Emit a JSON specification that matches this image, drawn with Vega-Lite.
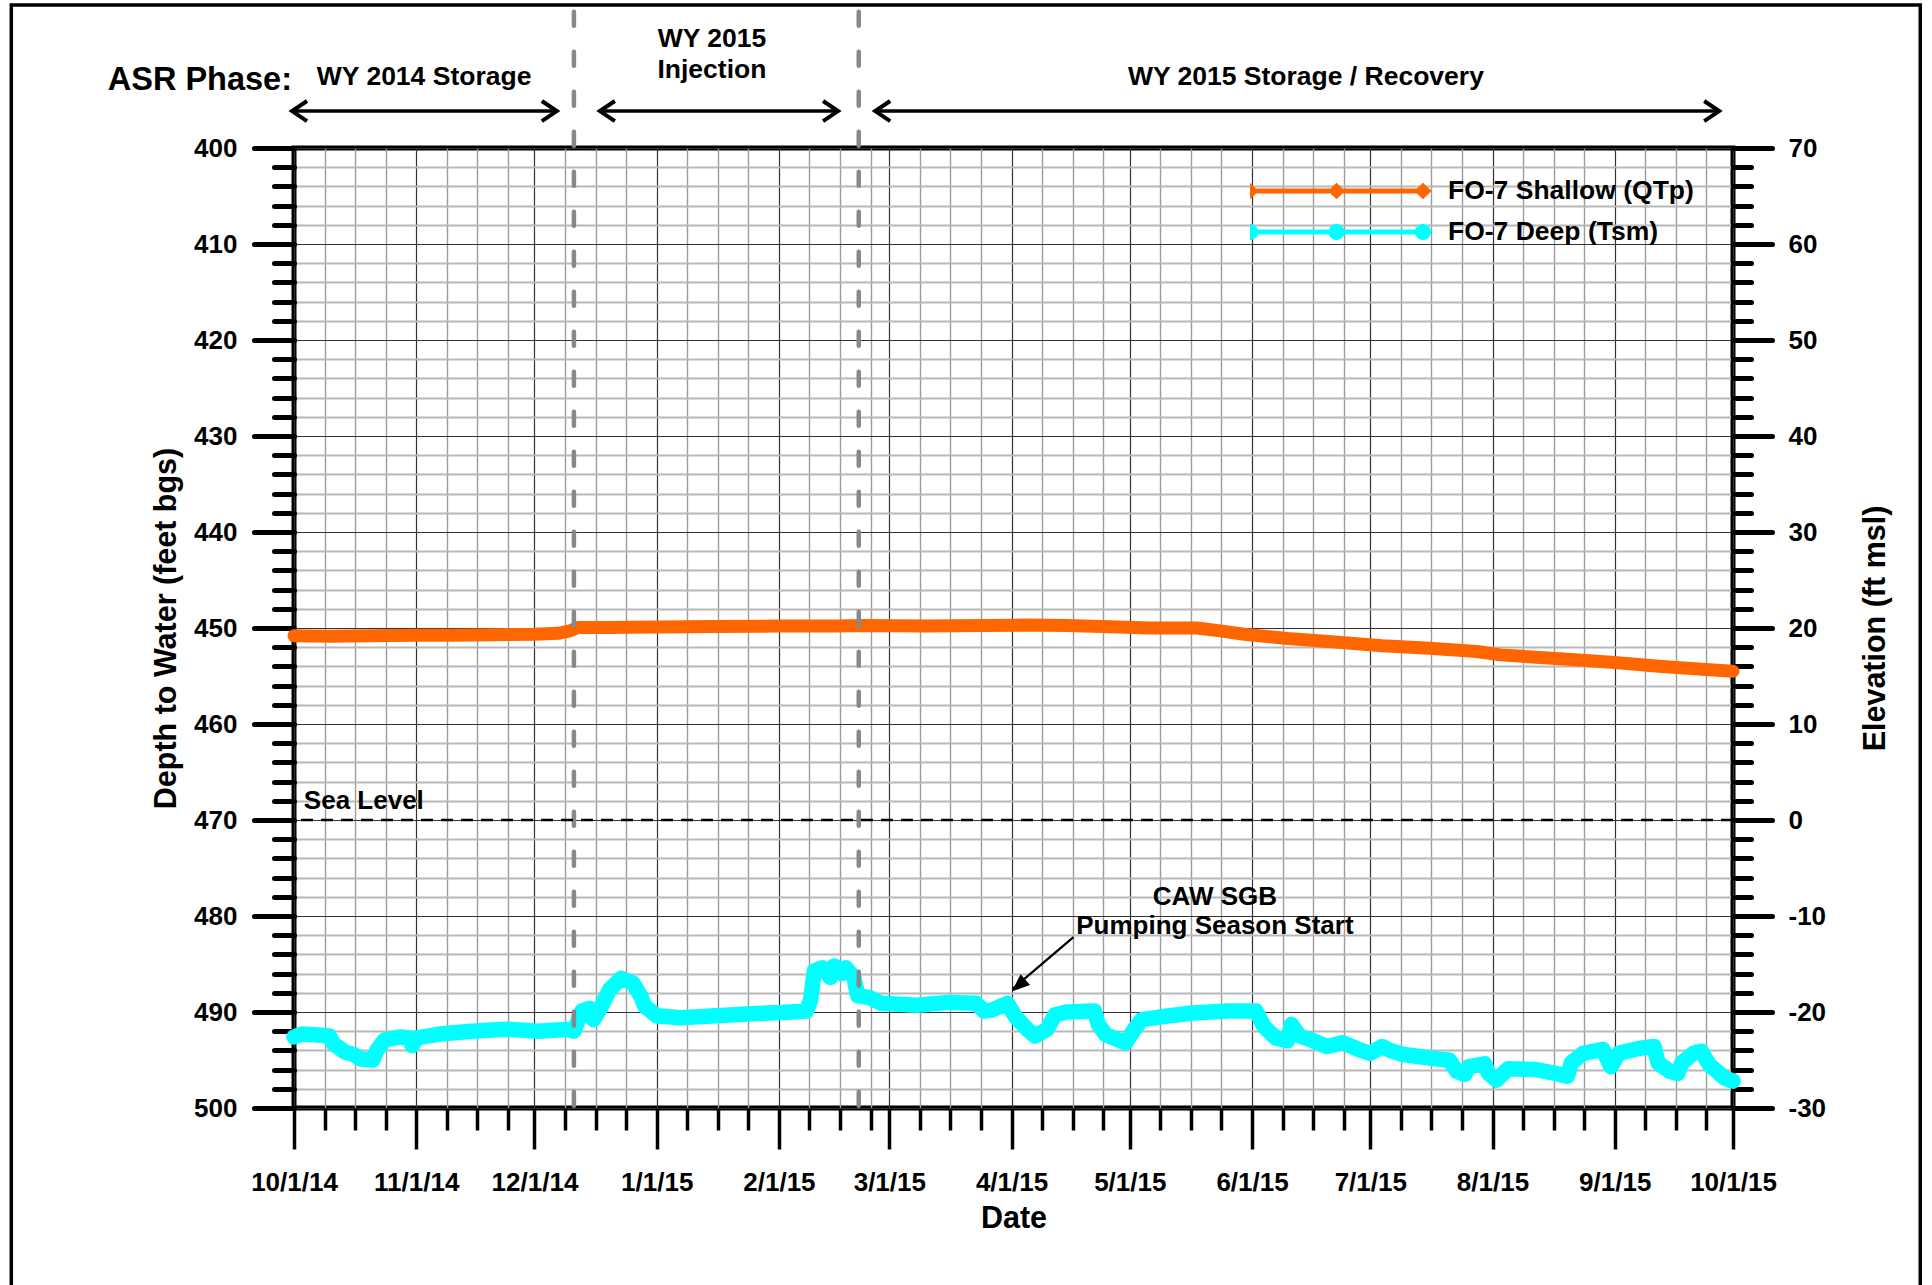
{
  "$schema": "https://vega.github.io/schema/vega-lite/v6.json",
  "width": 1439,
  "height": 960,
  "autosize": {"type": "none"},
  "padding": {"left": 294, "top": 148, "right": 199, "bottom": 177},
  "background": "white",
  "config": {
    "font": "Liberation Sans",
    "view": {"stroke": "black", "strokeWidth": 5},
    "axis": {
      "domain": false,
      "labelFont": "Liberation Sans",
      "labelFontWeight": "bold",
      "labelFontSize": 26,
      "labelColor": "black",
      "titleFont": "Liberation Sans",
      "titleFontWeight": "bold",
      "titleFontSize": 30.5,
      "titleColor": "black",
      "tickColor": "black",
      "labelOverlap": false,
      "labelFlush": false,
      "labelBound": false
    }
  },
  "datasets": {
    "levels": [
      {"date": "2014-10-01", "well": "FO-7 Shallow (QTp)", "depth": 450.8},
      {"date": "2014-10-10", "well": "FO-7 Shallow (QTp)", "depth": 450.85},
      {"date": "2014-10-20", "well": "FO-7 Shallow (QTp)", "depth": 450.8},
      {"date": "2014-11-01", "well": "FO-7 Shallow (QTp)", "depth": 450.75},
      {"date": "2014-11-10", "well": "FO-7 Shallow (QTp)", "depth": 450.75},
      {"date": "2014-11-20", "well": "FO-7 Shallow (QTp)", "depth": 450.7},
      {"date": "2014-12-01", "well": "FO-7 Shallow (QTp)", "depth": 450.65},
      {"date": "2014-12-07", "well": "FO-7 Shallow (QTp)", "depth": 450.55},
      {"date": "2014-12-10", "well": "FO-7 Shallow (QTp)", "depth": 450.3},
      {"date": "2014-12-12", "well": "FO-7 Shallow (QTp)", "depth": 449.95},
      {"date": "2014-12-20", "well": "FO-7 Shallow (QTp)", "depth": 449.95},
      {"date": "2015-01-01", "well": "FO-7 Shallow (QTp)", "depth": 449.9},
      {"date": "2015-01-15", "well": "FO-7 Shallow (QTp)", "depth": 449.85},
      {"date": "2015-02-01", "well": "FO-7 Shallow (QTp)", "depth": 449.8},
      {"date": "2015-02-15", "well": "FO-7 Shallow (QTp)", "depth": 449.8},
      {"date": "2015-02-23", "well": "FO-7 Shallow (QTp)", "depth": 449.75},
      {"date": "2015-03-10", "well": "FO-7 Shallow (QTp)", "depth": 449.8},
      {"date": "2015-03-25", "well": "FO-7 Shallow (QTp)", "depth": 449.75},
      {"date": "2015-04-05", "well": "FO-7 Shallow (QTp)", "depth": 449.7},
      {"date": "2015-04-15", "well": "FO-7 Shallow (QTp)", "depth": 449.75},
      {"date": "2015-04-24", "well": "FO-7 Shallow (QTp)", "depth": 449.85},
      {"date": "2015-05-06", "well": "FO-7 Shallow (QTp)", "depth": 450.0},
      {"date": "2015-05-18", "well": "FO-7 Shallow (QTp)", "depth": 450.0},
      {"date": "2015-05-24", "well": "FO-7 Shallow (QTp)", "depth": 450.3},
      {"date": "2015-05-30", "well": "FO-7 Shallow (QTp)", "depth": 450.65},
      {"date": "2015-06-10", "well": "FO-7 Shallow (QTp)", "depth": 451.1},
      {"date": "2015-06-22", "well": "FO-7 Shallow (QTp)", "depth": 451.45},
      {"date": "2015-07-04", "well": "FO-7 Shallow (QTp)", "depth": 451.85},
      {"date": "2015-07-16", "well": "FO-7 Shallow (QTp)", "depth": 452.1},
      {"date": "2015-07-28", "well": "FO-7 Shallow (QTp)", "depth": 452.45},
      {"date": "2015-08-03", "well": "FO-7 Shallow (QTp)", "depth": 452.8},
      {"date": "2015-08-20", "well": "FO-7 Shallow (QTp)", "depth": 453.25},
      {"date": "2015-09-01", "well": "FO-7 Shallow (QTp)", "depth": 453.6},
      {"date": "2015-09-13", "well": "FO-7 Shallow (QTp)", "depth": 454.0},
      {"date": "2015-09-25", "well": "FO-7 Shallow (QTp)", "depth": 454.35},
      {"date": "2015-10-01", "well": "FO-7 Shallow (QTp)", "depth": 454.5},
      {"date": "2014-10-01", "well": "FO-7 Deep (Tsm)", "depth": 492.6},
      {"date": "2014-10-03", "well": "FO-7 Deep (Tsm)", "depth": 492.3},
      {"date": "2014-10-07", "well": "FO-7 Deep (Tsm)", "depth": 492.4},
      {"date": "2014-10-10", "well": "FO-7 Deep (Tsm)", "depth": 492.5},
      {"date": "2014-10-11", "well": "FO-7 Deep (Tsm)", "depth": 493.3},
      {"date": "2014-10-14", "well": "FO-7 Deep (Tsm)", "depth": 494.2},
      {"date": "2014-10-16", "well": "FO-7 Deep (Tsm)", "depth": 494.4},
      {"date": "2014-10-18", "well": "FO-7 Deep (Tsm)", "depth": 494.9},
      {"date": "2014-10-21", "well": "FO-7 Deep (Tsm)", "depth": 495.0},
      {"date": "2014-10-22", "well": "FO-7 Deep (Tsm)", "depth": 494.0},
      {"date": "2014-10-24", "well": "FO-7 Deep (Tsm)", "depth": 492.9},
      {"date": "2014-10-28", "well": "FO-7 Deep (Tsm)", "depth": 492.6},
      {"date": "2014-10-30", "well": "FO-7 Deep (Tsm)", "depth": 492.7},
      {"date": "2014-10-31", "well": "FO-7 Deep (Tsm)", "depth": 493.5},
      {"date": "2014-11-01", "well": "FO-7 Deep (Tsm)", "depth": 492.7},
      {"date": "2014-11-07", "well": "FO-7 Deep (Tsm)", "depth": 492.3},
      {"date": "2014-11-15", "well": "FO-7 Deep (Tsm)", "depth": 492.0},
      {"date": "2014-11-24", "well": "FO-7 Deep (Tsm)", "depth": 491.8},
      {"date": "2014-12-02", "well": "FO-7 Deep (Tsm)", "depth": 492.0},
      {"date": "2014-12-10", "well": "FO-7 Deep (Tsm)", "depth": 491.8},
      {"date": "2014-12-11", "well": "FO-7 Deep (Tsm)", "depth": 492.0},
      {"date": "2014-12-13", "well": "FO-7 Deep (Tsm)", "depth": 489.9},
      {"date": "2014-12-15", "well": "FO-7 Deep (Tsm)", "depth": 489.6},
      {"date": "2014-12-16", "well": "FO-7 Deep (Tsm)", "depth": 490.8},
      {"date": "2014-12-18", "well": "FO-7 Deep (Tsm)", "depth": 489.4},
      {"date": "2014-12-20", "well": "FO-7 Deep (Tsm)", "depth": 487.7},
      {"date": "2014-12-23", "well": "FO-7 Deep (Tsm)", "depth": 486.5},
      {"date": "2014-12-26", "well": "FO-7 Deep (Tsm)", "depth": 487.0},
      {"date": "2014-12-28", "well": "FO-7 Deep (Tsm)", "depth": 488.4},
      {"date": "2014-12-29", "well": "FO-7 Deep (Tsm)", "depth": 489.4},
      {"date": "2015-01-01", "well": "FO-7 Deep (Tsm)", "depth": 490.4},
      {"date": "2015-01-07", "well": "FO-7 Deep (Tsm)", "depth": 490.6},
      {"date": "2015-01-16", "well": "FO-7 Deep (Tsm)", "depth": 490.4},
      {"date": "2015-01-24", "well": "FO-7 Deep (Tsm)", "depth": 490.2},
      {"date": "2015-02-02", "well": "FO-7 Deep (Tsm)", "depth": 490.05},
      {"date": "2015-02-08", "well": "FO-7 Deep (Tsm)", "depth": 489.9},
      {"date": "2015-02-09", "well": "FO-7 Deep (Tsm)", "depth": 488.8},
      {"date": "2015-02-10", "well": "FO-7 Deep (Tsm)", "depth": 485.7},
      {"date": "2015-02-12", "well": "FO-7 Deep (Tsm)", "depth": 485.4},
      {"date": "2015-02-14", "well": "FO-7 Deep (Tsm)", "depth": 486.4},
      {"date": "2015-02-15", "well": "FO-7 Deep (Tsm)", "depth": 485.2},
      {"date": "2015-02-17", "well": "FO-7 Deep (Tsm)", "depth": 486.0},
      {"date": "2015-02-18", "well": "FO-7 Deep (Tsm)", "depth": 485.4},
      {"date": "2015-02-20", "well": "FO-7 Deep (Tsm)", "depth": 486.4},
      {"date": "2015-02-21", "well": "FO-7 Deep (Tsm)", "depth": 488.3},
      {"date": "2015-02-24", "well": "FO-7 Deep (Tsm)", "depth": 488.5},
      {"date": "2015-02-27", "well": "FO-7 Deep (Tsm)", "depth": 489.1},
      {"date": "2015-03-08", "well": "FO-7 Deep (Tsm)", "depth": 489.3},
      {"date": "2015-03-16", "well": "FO-7 Deep (Tsm)", "depth": 489.0},
      {"date": "2015-03-23", "well": "FO-7 Deep (Tsm)", "depth": 489.1},
      {"date": "2015-03-25", "well": "FO-7 Deep (Tsm)", "depth": 489.9},
      {"date": "2015-03-27", "well": "FO-7 Deep (Tsm)", "depth": 489.8},
      {"date": "2015-03-31", "well": "FO-7 Deep (Tsm)", "depth": 489.1},
      {"date": "2015-04-02", "well": "FO-7 Deep (Tsm)", "depth": 490.5},
      {"date": "2015-04-05", "well": "FO-7 Deep (Tsm)", "depth": 491.8},
      {"date": "2015-04-07", "well": "FO-7 Deep (Tsm)", "depth": 492.5},
      {"date": "2015-04-10", "well": "FO-7 Deep (Tsm)", "depth": 491.8},
      {"date": "2015-04-12", "well": "FO-7 Deep (Tsm)", "depth": 490.3},
      {"date": "2015-04-15", "well": "FO-7 Deep (Tsm)", "depth": 490.0},
      {"date": "2015-04-22", "well": "FO-7 Deep (Tsm)", "depth": 489.9},
      {"date": "2015-04-23", "well": "FO-7 Deep (Tsm)", "depth": 491.3},
      {"date": "2015-04-25", "well": "FO-7 Deep (Tsm)", "depth": 492.4},
      {"date": "2015-04-30", "well": "FO-7 Deep (Tsm)", "depth": 493.2},
      {"date": "2015-05-02", "well": "FO-7 Deep (Tsm)", "depth": 491.9},
      {"date": "2015-05-04", "well": "FO-7 Deep (Tsm)", "depth": 490.8},
      {"date": "2015-05-09", "well": "FO-7 Deep (Tsm)", "depth": 490.5},
      {"date": "2015-05-17", "well": "FO-7 Deep (Tsm)", "depth": 490.1},
      {"date": "2015-05-26", "well": "FO-7 Deep (Tsm)", "depth": 489.9},
      {"date": "2015-06-02", "well": "FO-7 Deep (Tsm)", "depth": 489.9},
      {"date": "2015-06-04", "well": "FO-7 Deep (Tsm)", "depth": 491.5},
      {"date": "2015-06-07", "well": "FO-7 Deep (Tsm)", "depth": 492.7},
      {"date": "2015-06-10", "well": "FO-7 Deep (Tsm)", "depth": 493.0},
      {"date": "2015-06-11", "well": "FO-7 Deep (Tsm)", "depth": 491.3},
      {"date": "2015-06-13", "well": "FO-7 Deep (Tsm)", "depth": 492.5},
      {"date": "2015-06-16", "well": "FO-7 Deep (Tsm)", "depth": 492.9},
      {"date": "2015-06-20", "well": "FO-7 Deep (Tsm)", "depth": 493.6},
      {"date": "2015-06-24", "well": "FO-7 Deep (Tsm)", "depth": 493.2},
      {"date": "2015-06-28", "well": "FO-7 Deep (Tsm)", "depth": 493.9},
      {"date": "2015-07-01", "well": "FO-7 Deep (Tsm)", "depth": 494.3},
      {"date": "2015-07-04", "well": "FO-7 Deep (Tsm)", "depth": 493.6},
      {"date": "2015-07-06", "well": "FO-7 Deep (Tsm)", "depth": 494.0},
      {"date": "2015-07-09", "well": "FO-7 Deep (Tsm)", "depth": 494.4},
      {"date": "2015-07-18", "well": "FO-7 Deep (Tsm)", "depth": 494.9},
      {"date": "2015-07-21", "well": "FO-7 Deep (Tsm)", "depth": 495.0},
      {"date": "2015-07-23", "well": "FO-7 Deep (Tsm)", "depth": 496.2},
      {"date": "2015-07-25", "well": "FO-7 Deep (Tsm)", "depth": 496.5},
      {"date": "2015-07-26", "well": "FO-7 Deep (Tsm)", "depth": 495.7},
      {"date": "2015-07-30", "well": "FO-7 Deep (Tsm)", "depth": 495.4},
      {"date": "2015-07-31", "well": "FO-7 Deep (Tsm)", "depth": 496.4},
      {"date": "2015-08-02", "well": "FO-7 Deep (Tsm)", "depth": 497.1},
      {"date": "2015-08-05", "well": "FO-7 Deep (Tsm)", "depth": 495.9},
      {"date": "2015-08-12", "well": "FO-7 Deep (Tsm)", "depth": 496.0},
      {"date": "2015-08-17", "well": "FO-7 Deep (Tsm)", "depth": 496.4},
      {"date": "2015-08-20", "well": "FO-7 Deep (Tsm)", "depth": 496.7},
      {"date": "2015-08-21", "well": "FO-7 Deep (Tsm)", "depth": 495.3},
      {"date": "2015-08-24", "well": "FO-7 Deep (Tsm)", "depth": 494.3},
      {"date": "2015-08-29", "well": "FO-7 Deep (Tsm)", "depth": 493.9},
      {"date": "2015-08-31", "well": "FO-7 Deep (Tsm)", "depth": 495.7},
      {"date": "2015-09-02", "well": "FO-7 Deep (Tsm)", "depth": 494.3},
      {"date": "2015-09-07", "well": "FO-7 Deep (Tsm)", "depth": 493.8},
      {"date": "2015-09-11", "well": "FO-7 Deep (Tsm)", "depth": 493.6},
      {"date": "2015-09-12", "well": "FO-7 Deep (Tsm)", "depth": 495.3},
      {"date": "2015-09-15", "well": "FO-7 Deep (Tsm)", "depth": 496.2},
      {"date": "2015-09-17", "well": "FO-7 Deep (Tsm)", "depth": 496.4},
      {"date": "2015-09-18", "well": "FO-7 Deep (Tsm)", "depth": 495.3},
      {"date": "2015-09-21", "well": "FO-7 Deep (Tsm)", "depth": 494.3},
      {"date": "2015-09-23", "well": "FO-7 Deep (Tsm)", "depth": 494.1},
      {"date": "2015-09-25", "well": "FO-7 Deep (Tsm)", "depth": 495.5},
      {"date": "2015-09-29", "well": "FO-7 Deep (Tsm)", "depth": 496.9},
      {"date": "2015-10-01", "well": "FO-7 Deep (Tsm)", "depth": 497.2}
    ],
    "phases": [
      {"label": "WY 2014 Storage", "start": "2014-09-30T12:00:00Z", "end": "2014-12-06T16:00:00Z", "labelDate": "2014-11-03T00:00:00Z"},
      {"label": "WY 2015\nInjection", "start": "2014-12-17T14:00:00Z", "end": "2015-02-16T00:00:00Z", "labelDate": "2015-01-15T00:00:00Z"},
      {"label": "WY 2015 Storage / Recovery", "start": "2015-02-25T10:00:00Z", "end": "2015-09-27T12:00:00Z", "labelDate": "2015-06-14T16:00:00Z"}
    ],
    "boundaries": [
      {"date": "2014-12-11T00:00:00Z"},
      {"date": "2015-02-21T06:00:00Z"}
    ]
  },
  "layer": [
    {
      "layer": [
        {
          "data": {"values": [{}]},
          "mark": {"type": "rect", "fill": "transparent", "stroke": "black", "strokeWidth": 3.5},
          "encoding": {
            "x": {"datum": {"year": 2014, "month": 7, "date": 21, "hours": 7, "utc": true}, "type": "temporal"},
            "x2": {"datum": {"year": 2015, "month": 11, "date": 17, "hours": 12, "utc": true}},
            "y": {"datum": 385.1, "type": "quantitative"},
            "y2": {"datum": 540}
          }
        },
        {
          "data": {"name": "levels"},
          "transform": [{"filter": "datum.well === 'FO-7 Shallow (QTp)'"}],
          "mark": {"type": "line", "strokeWidth": 13, "strokeCap": "round", "strokeJoin": "round"},
          "encoding": {
            "x": {
              "field": "date",
              "type": "temporal",
              "scale": {"type": "utc", "domain": [{"year": 2014, "month": 10, "date": 1, "utc": true}, {"year": 2015, "month": 10, "date": 1, "utc": true}]},
              "axis": {
                "orient": "bottom",
                "title": "Date",
                "tickCount": 500,
                "values": [
                  {"year": 2014, "month": 10, "date": 1, "utc": true},
                  {"year": 2014, "month": 10, "date": 8, "hours": 18, "utc": true},
                  {"year": 2014, "month": 10, "date": 16, "hours": 12, "utc": true},
                  {"year": 2014, "month": 10, "date": 24, "hours": 6, "utc": true},
                  {"year": 2014, "month": 11, "date": 1, "utc": true},
                  {"year": 2014, "month": 11, "date": 8, "hours": 18, "utc": true},
                  {"year": 2014, "month": 11, "date": 16, "hours": 12, "utc": true},
                  {"year": 2014, "month": 11, "date": 24, "hours": 6, "utc": true},
                  {"year": 2014, "month": 12, "date": 1, "utc": true},
                  {"year": 2014, "month": 12, "date": 8, "hours": 18, "utc": true},
                  {"year": 2014, "month": 12, "date": 16, "hours": 12, "utc": true},
                  {"year": 2014, "month": 12, "date": 24, "hours": 6, "utc": true},
                  {"year": 2015, "month": 1, "date": 1, "utc": true},
                  {"year": 2015, "month": 1, "date": 8, "hours": 18, "utc": true},
                  {"year": 2015, "month": 1, "date": 16, "hours": 12, "utc": true},
                  {"year": 2015, "month": 1, "date": 24, "hours": 6, "utc": true},
                  {"year": 2015, "month": 2, "date": 1, "utc": true},
                  {"year": 2015, "month": 2, "date": 8, "hours": 18, "utc": true},
                  {"year": 2015, "month": 2, "date": 16, "hours": 12, "utc": true},
                  {"year": 2015, "month": 2, "date": 24, "hours": 6, "utc": true},
                  {"year": 2015, "month": 3, "date": 1, "utc": true},
                  {"year": 2015, "month": 3, "date": 8, "hours": 18, "utc": true},
                  {"year": 2015, "month": 3, "date": 16, "hours": 12, "utc": true},
                  {"year": 2015, "month": 3, "date": 24, "hours": 6, "utc": true},
                  {"year": 2015, "month": 4, "date": 1, "utc": true},
                  {"year": 2015, "month": 4, "date": 8, "hours": 18, "utc": true},
                  {"year": 2015, "month": 4, "date": 16, "hours": 12, "utc": true},
                  {"year": 2015, "month": 4, "date": 24, "hours": 6, "utc": true},
                  {"year": 2015, "month": 5, "date": 1, "utc": true},
                  {"year": 2015, "month": 5, "date": 8, "hours": 18, "utc": true},
                  {"year": 2015, "month": 5, "date": 16, "hours": 12, "utc": true},
                  {"year": 2015, "month": 5, "date": 24, "hours": 6, "utc": true},
                  {"year": 2015, "month": 6, "date": 1, "utc": true},
                  {"year": 2015, "month": 6, "date": 8, "hours": 18, "utc": true},
                  {"year": 2015, "month": 6, "date": 16, "hours": 12, "utc": true},
                  {"year": 2015, "month": 6, "date": 24, "hours": 6, "utc": true},
                  {"year": 2015, "month": 7, "date": 1, "utc": true},
                  {"year": 2015, "month": 7, "date": 8, "hours": 18, "utc": true},
                  {"year": 2015, "month": 7, "date": 16, "hours": 12, "utc": true},
                  {"year": 2015, "month": 7, "date": 24, "hours": 6, "utc": true},
                  {"year": 2015, "month": 8, "date": 1, "utc": true},
                  {"year": 2015, "month": 8, "date": 8, "hours": 18, "utc": true},
                  {"year": 2015, "month": 8, "date": 16, "hours": 12, "utc": true},
                  {"year": 2015, "month": 8, "date": 24, "hours": 6, "utc": true},
                  {"year": 2015, "month": 9, "date": 1, "utc": true},
                  {"year": 2015, "month": 9, "date": 8, "hours": 18, "utc": true},
                  {"year": 2015, "month": 9, "date": 16, "hours": 12, "utc": true},
                  {"year": 2015, "month": 9, "date": 24, "hours": 6, "utc": true},
                  {"year": 2015, "month": 10, "date": 1, "utc": true}
                ],
                "labelExpr": "utcdate(datum.value) === 1 && utchours(datum.value) === 0 ? utcFormat(datum.value, '%-m/%-d/%y') : ''",
                "tickSize": {"condition": {"test": "utcdate(datum.value) === 1 && utchours(datum.value) === 0", "value": 41}, "value": 22},
                "tickWidth": 3.5,
                "grid": true,
                "gridColor": {"condition": {"test": "utcdate(datum.value) === 1 && utchours(datum.value) === 0", "value": "#333333"}, "value": "#9c9c9c"},
                "gridWidth": {"condition": {"test": "utcdate(datum.value) === 1 && utchours(datum.value) === 0", "value": 1.2}, "value": 1.4},
                "labelPadding": 20,
                "titlePadding": 8
              }
            },
            "y": {
              "field": "depth",
              "type": "quantitative",
              "scale": {"domain": [400, 500], "reverse": true, "nice": false, "zero": false},
              "axis": {
                "orient": "left",
                "title": "Depth to Water (feet bgs)",
                "tickCount": 500,
                "values": [400, 402, 404, 406, 408, 410, 412, 414, 416, 418, 420, 422, 424, 426, 428, 430, 432, 434, 436, 438, 440, 442, 444, 446, 448, 450, 452, 454, 456, 458, 460, 462, 464, 466, 468, 470, 472, 474, 476, 478, 480, 482, 484, 486, 488, 490, 492, 494, 496, 498, 500],
                "labelExpr": "datum.value % 10 === 0 ? '' + datum.value : ''",
                "tickSize": {"condition": {"test": "datum.value % 10 === 0", "value": 40}, "value": 20},
                "tickWidth": 5,
                "tickCap": "round",
                "grid": true,
                "gridColor": {"condition": {"test": "datum.value % 10 === 0", "value": "#333333"}, "value": "#b8b8b8"},
                "gridWidth": {"condition": {"test": "datum.value % 10 === 0", "value": 1.2}, "value": 2},
                "labelPadding": 17,
                "titlePadding": 12
              }
            },
            "color": {
              "field": "well",
              "type": "nominal",
              "scale": {"domain": ["FO-7 Shallow (QTp)", "FO-7 Deep (Tsm)"], "range": ["#FF6600", "#00FFFF"]},
              "legend": {
                "title": null,
                "orient": "none",
                "legendX": 956,
                "legendY": 33,
                "padding": 0,
                "symbolSize": 29929,
                "clipHeight": 20,
                "rowPadding": 14,
                "labelOffset": 25,
                "labelFont": "Liberation Sans",
                "labelFontSize": 26.5,
                "labelFontWeight": "bold",
                "labelColor": "black",
                "labelLimit": 500,
                "encode": {
                  "symbols": {
                    "update": {
                      "shape": {"signal": "datum.value === 'FO-7 Shallow (QTp)' ? 'M-1,-0.028L1,-0.028L1,0.028L-1,0.028Z M-1,-0.095L-0.9,0L-1,0.095L-1.1,0Z M0,-0.095L0.1,0L0,0.095L-0.1,0Z M1,-0.095L1.1,0L1,0.095L0.9,0Z' : 'M-1,-0.028L1,-0.028L1,0.028L-1,0.028Z M-0.905,0L-0.9177,0.0475L-0.9525,0.0823L-1,0.095L-1.0475,0.0823L-1.0823,0.0475L-1.095,0L-1.0823,-0.0475L-1.0475,-0.0823L-1,-0.095L-0.9525,-0.0823L-0.9177,-0.0475Z M0.095,0L0.0823,0.0475L0.0475,0.0823L0,0.095L-0.0475,0.0823L-0.0823,0.0475L-0.095,0L-0.0823,-0.0475L-0.0475,-0.0823L0,-0.095L0.0475,-0.0823L0.0823,-0.0475Z M1.095,0L1.0823,0.0475L1.0475,0.0823L1,0.095L0.9525,0.0823L0.9177,0.0475L0.905,0L0.9177,-0.0475L0.9525,-0.0823L1,-0.095L1.0475,-0.0823L1.0823,-0.0475Z'"},
                      "fill": {"scale": "color", "field": "value"},
                      "stroke": {"value": "transparent"},
                      "strokeWidth": {"value": 0},
                      "opacity": {"value": 1}
                    }
                  }
                }
              }
            }
          }
        },
        {
          "data": {"name": "levels"},
          "transform": [{"filter": "datum.well === 'FO-7 Deep (Tsm)'"}],
          "mark": {"type": "line", "strokeWidth": 15.5, "strokeCap": "round", "strokeJoin": "round"},
          "encoding": {
            "x": {"field": "date", "type": "temporal"},
            "y": {"field": "depth", "type": "quantitative"},
            "color": {"field": "well", "type": "nominal"}
          }
        },
        {
          "data": {"name": "boundaries"},
          "mark": {"type": "rule", "color": "#888888", "strokeWidth": 4.5, "strokeDash": [14, 26], "strokeCap": "round"},
          "encoding": {
            "x": {"field": "date", "type": "temporal"},
            "y": {"datum": 385.8, "type": "quantitative"},
            "y2": {"datum": 500}
          }
        },
        {
          "data": {"name": "phases"},
          "mark": {"type": "rule", "color": "black", "strokeWidth": 3.5},
          "encoding": {
            "x": {"field": "start", "type": "temporal"},
            "x2": {"field": "end"},
            "y": {"datum": 396.15, "type": "quantitative"}
          }
        },
        {
          "data": {"name": "phases"},
          "mark": {"type": "point", "shape": "M1,-0.67L0,0L1,0.67", "size": 900, "filled": false, "stroke": "black", "strokeWidth": 4, "opacity": 1},
          "encoding": {
            "x": {"field": "start", "type": "temporal"},
            "y": {"datum": 396.15, "type": "quantitative"}
          }
        },
        {
          "data": {"name": "phases"},
          "mark": {"type": "point", "shape": "M-1,-0.67L0,0L-1,0.67", "size": 900, "filled": false, "stroke": "black", "strokeWidth": 4, "opacity": 1},
          "encoding": {
            "x": {"field": "end", "type": "temporal"},
            "y": {"datum": 396.15, "type": "quantitative"}
          }
        },
        {
          "data": {"name": "phases"},
          "transform": [{"filter": "indexof(datum.label, 'Injection') < 0"}],
          "mark": {"type": "text", "fontSize": 26.5, "fontWeight": "bold", "color": "black", "align": "center", "baseline": "middle"},
          "encoding": {
            "x": {"field": "labelDate", "type": "temporal"},
            "y": {"datum": 392.6, "type": "quantitative"},
            "text": {"field": "label"}
          }
        },
        {
          "data": {"name": "phases"},
          "transform": [{"filter": "indexof(datum.label, 'Injection') >= 0"}],
          "mark": {"type": "text", "fontSize": 26.5, "fontWeight": "bold", "color": "black", "align": "center", "baseline": "middle", "lineBreak": "\n", "lineHeight": 31},
          "encoding": {
            "x": {"field": "labelDate", "type": "temporal"},
            "y": {"datum": 388.65, "type": "quantitative"},
            "text": {"field": "label"}
          }
        },
        {
          "data": {"values": [{}]},
          "mark": {"type": "text", "text": "ASR Phase:", "fontSize": 32.5, "fontWeight": "bold", "color": "black", "align": "right", "baseline": "middle"},
          "encoding": {
            "x": {"datum": {"year": 2014, "month": 9, "date": 30, "hours": 12, "utc": true}, "type": "temporal"},
            "y": {"datum": 392.9, "type": "quantitative"}
          }
        },
        {
          "data": {"values": [{}]},
          "mark": {"type": "text", "text": "Sea Level", "fontSize": 26, "fontWeight": "bold", "color": "black", "align": "left", "baseline": "middle"},
          "encoding": {
            "x": {"datum": {"year": 2014, "month": 10, "date": 3, "hours": 12, "utc": true}, "type": "temporal"},
            "y": {"datum": 468.0, "type": "quantitative"}
          }
        },
        {
          "data": {"values": [{}]},
          "mark": {"type": "text", "text": "CAW SGB\nPumping Season Start", "lineBreak": "\n", "lineHeight": 29, "fontSize": 26, "fontWeight": "bold", "color": "black", "align": "center", "baseline": "middle"},
          "encoding": {
            "x": {"datum": {"year": 2015, "month": 5, "date": 22, "hours": 14, "utc": true}, "type": "temporal"},
            "y": {"datum": 478.05, "type": "quantitative"}
          }
        },
        {
          "data": {"values": [{}]},
          "mark": {"type": "rule", "color": "black", "strokeWidth": 2.2},
          "encoding": {
            "x": {"datum": {"year": 2015, "month": 4, "date": 16, "hours": 17, "utc": true}, "type": "temporal"},
            "x2": {"datum": {"year": 2015, "month": 4, "date": 1, "hours": 6, "utc": true}},
            "y": {"datum": 482.2, "type": "quantitative"},
            "y2": {"datum": 487.6}
          }
        },
        {
          "data": {"values": [{}]},
          "mark": {"type": "point", "shape": "M0,0L-0.4,1L0.4,1Z", "size": 1296, "filled": true, "color": "black", "angle": 228.5, "opacity": 1, "strokeWidth": 0},
          "encoding": {
            "x": {"datum": {"year": 2015, "month": 4, "date": 1, "hours": 2, "utc": true}, "type": "temporal"},
            "y": {"datum": 487.86, "type": "quantitative"}
          }
        }
      ]
    },
    {
      "data": {"values": [{}]},
      "mark": {"type": "rule", "color": "black", "strokeWidth": 2.5, "strokeDash": [12, 8]},
      "encoding": {
        "y": {
          "datum": 0,
          "type": "quantitative",
          "scale": {"domain": [-30, 70], "nice": false, "zero": false},
          "axis": {
            "orient": "right",
            "title": "Elevation (ft msl)",
            "titleAngle": 270,
            "titleBaseline": "top",
            "tickCount": 500,
            "values": [-30, -28, -26, -24, -22, -20, -18, -16, -14, -12, -10, -8, -6, -4, -2, 0, 2, 4, 6, 8, 10, 12, 14, 16, 18, 20, 22, 24, 26, 28, 30, 32, 34, 36, 38, 40, 42, 44, 46, 48, 50, 52, 54, 56, 58, 60, 62, 64, 66, 68, 70],
            "labelExpr": "datum.value % 10 === 0 ? '' + datum.value : ''",
            "tickSize": {"condition": {"test": "datum.value % 10 === 0", "value": 39}, "value": 18},
            "tickWidth": 5,
            "tickCap": "round",
            "grid": false,
            "labelPadding": 16,
            "titlePadding": 35
          }
        }
      }
    }
  ],
  "resolve": {"scale": {"y": "independent"}}
}
